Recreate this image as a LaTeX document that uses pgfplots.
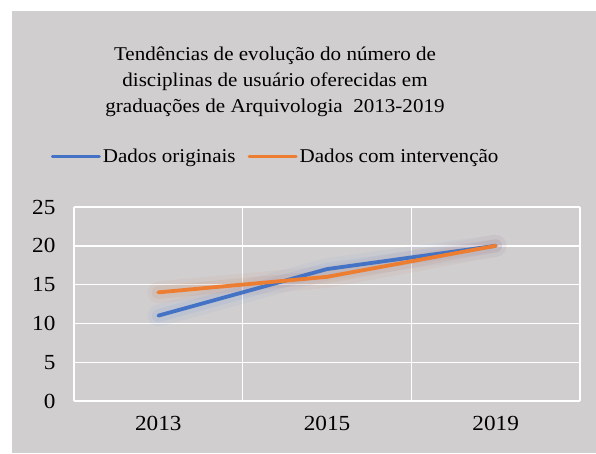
\documentclass[border=0pt]{standalone}
\usepackage{fontspec}
\setmainfont{Liberation Serif}[FakeStretch=1.08]
\usepackage{pgfplots}
\pgfplotsset{compat=1.18}
\definecolor{bgGray}{RGB}{208,206,206}
\definecolor{xlBlue}{RGB}{68,114,196}
\definecolor{xlOrange}{RGB}{237,125,49}
\definecolor{glowBlue}{RGB}{90,140,230}
\definecolor{glowBrown}{RGB}{200,115,80}
\begin{document}
\begin{tikzpicture}[x=1pt,y=1pt]
% page frame: white margin on top and left, gray chart area
\path[fill=white] (-74,-52) rectangle (522,401);
\path[fill=bgGray] (-62,-52) rectangle (522,390);
\begin{axis}[
    at={(0,0)}, anchor=south west,
    scale only axis,
    width=506pt, height=194pt,
    xmin=-0.5, xmax=2.5,
    ymin=0, ymax=25,
    xtick={0,1,2},
    xticklabels={2013,2015,2019},
    minor xtick={-0.5,0.5,1.5,2.5},
    ytick={0,5,...,25},
    xminorgrids=true, ymajorgrids=true,
    grid style={white, line width=1.4pt},
    minor grid style={white, line width=1.4pt},
    major tick length=0pt, minor tick length=0pt,
    axis line style={draw=none},
    tick label style={font=\fontsize{21.5}{25}\selectfont},
    /pgf/number format/assume math mode=true,
    yticklabel style={xshift=-15pt},
    xticklabel style={yshift=-12pt},
    legend columns=2,
    legend style={at={(0.3986,1.262)}, anchor=center, draw=none, fill=none,
        font=\fontsize{19.5}{23}\selectfont,
        /tikz/every even column/.append style={column sep=10pt}},
    legend image code/.code={\draw[#1, line width=3pt] (0pt,0pt) -- (47pt,0pt);},
    legend cell align=left,
]
% soft glow under the lines
\addplot[forget plot, glowBlue, line width=22pt, opacity=0.06, line cap=round] coordinates {(0,11) (1,17) (2,20)};
\addplot[forget plot, glowBlue, line width=13pt, opacity=0.10, line cap=round] coordinates {(0,11) (1,17) (2,20)};
\addplot[forget plot, glowBrown, line width=22pt, opacity=0.06, line cap=round] coordinates {(0,14) (1,16) (2,20)};
\addplot[forget plot, glowBrown, line width=13pt, opacity=0.10, line cap=round] coordinates {(0,14) (1,16) (2,20)};
% series
\addplot[xlBlue, line width=3.8pt, line cap=round, line join=round] coordinates {(0,11) (1,17) (2,20)};
\addplot[xlOrange, line width=3.8pt, line cap=round, line join=round] coordinates {(0,14) (1,16) (2,20)};
\legend{Dados originais, Dados com intervenção}
\end{axis}
\node[align=center, font=\fontsize{19.5}{26}\selectfont, anchor=base] at (201,288)
  {Tendências de evolução do número de\\disciplinas de usuário oferecidas em\\graduações de Arquivologia\ \ 2013-2019};
\end{tikzpicture}
\end{document}
